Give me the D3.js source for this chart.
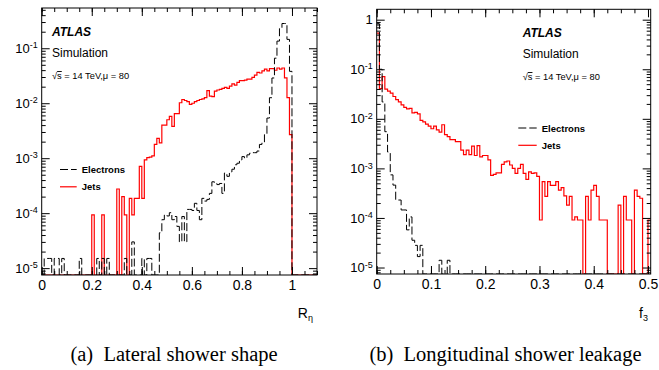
<!DOCTYPE html>
<html>
<head>
<meta charset="utf-8">
<script src="https://cdn.jsdelivr.net/npm/d3@7"></script>
<style>
  body { margin: 0; background: #fff; }
  svg { display: block; }
</style>
</head>
<body>
<div id="chart"></div>
<script>
// ---- data (normalised entries per bin) ----
const rEtaBinWidth = 0.01;   // 110 bins, 0 .. 1.1
const f3BinWidth = 0.005;    // 101 bins, 0 .. 0.505

const rEtaElectrons = [
  0, 1.5e-5, 1.5e-5, 1.5e-5, 0, 1.5e-5, 1.5e-5, 0, 1.5e-5, 0,
  0, 0, 0, 0, 0, 1.5e-5, 0, 0, 0, 0,
  0, 0, 1.5e-5, 0, 1.5e-5, 0, 1.5e-5, 0, 0, 0,
  0, 0, 0, 1.5e-5, 0, 0, 3.0e-5, 0, 0, 0,
  1.5e-5, 0, 1.5e-5, 1.5e-5, 0, 0, 0, 4.4e-5, 7.6e-5, 9.3e-5,
  8.9e-5, 1.02e-4, 7.6e-5, 8.7e-5, 5.75e-5, 3.0e-5, 8.7e-5, 3.0e-5, 1.17e-4, 1.17e-4,
  1.12e-4, 1.51e-4, 1.12e-4, 7.6e-5, 1.86e-4, 1.66e-4, 1.78e-4, 2.29e-4, 3.72e-4, 3.47e-4,
  3.31e-4, 3.47e-4, 2.29e-4, 5.37e-4, 4.68e-4, 5.62e-4, 6.3e-4, 7.6e-4, 8.1e-4, 9.3e-4,
  1.07e-3, 1.0e-3, 1.15e-3, 1.23e-3, 1.26e-3, 1.26e-3, 1.35e-3, 1.78e-3, 1.9e-3, 2.69e-3,
  5.37e-3, 1.26e-2, 2.88e-2, 6.6e-2, 0.135, 0.229, 0.282, 0.282, 0.145, 0.038,
  0, 0, 0, 0, 0, 0, 0, 0, 0, 0
];

const rEtaJets = [
  0, 0, 0, 0, 0, 0, 0, 0, 0, 0,
  0, 0, 0, 0, 0, 0, 0, 0, 0, 0,
  9.3e-5, 0, 0, 0, 9.3e-5, 0, 0, 0, 0, 0,
  2.75e-4, 0, 2.0e-4, 9.3e-5, 0, 1.86e-4, 9.3e-5, 1.86e-4, 1.86e-4, 7.1e-4,
  1.86e-4, 9.3e-4, 1.02e-3, 1.05e-3, 1.10e-3, 1.78e-3, 2.29e-3, 1.9e-3, 3.98e-3, 3.98e-3,
  5.0e-3, 5.75e-3, 3.8e-3, 6.46e-3, 6.46e-3, 1.02e-2, 1.17e-2, 1.12e-2, 1.07e-2, 9.5e-3,
  1.0e-2, 1.07e-2, 1.12e-2, 1.17e-2, 1.2e-2, 1.26e-2, 1.7e-2, 1.35e-2, 1.32e-2, 1.66e-2,
  1.74e-2, 1.78e-2, 1.86e-2, 1.95e-2, 1.86e-2, 2.04e-2, 2.24e-2, 2.14e-2, 2.4e-2, 2.57e-2,
  2.57e-2, 2.63e-2, 2.75e-2, 2.75e-2, 2.95e-2, 3.24e-2, 3.63e-2, 3.55e-2, 3.89e-2, 4.17e-2,
  3.89e-2, 4.27e-2, 4.27e-2, 3.98e-2, 4.37e-2, 4.17e-2, 4.37e-2, 2.88e-2, 1.26e-2, 2.69e-3,
  0, 0, 0, 0, 0, 0, 0, 0, 0, 0
];

const f3Electrons = [
  0.83, 0.1, 2.19e-2, 5.5e-3, 2.14e-3, 7.4e-4, 4.6e-4, 2.3e-4, 2.3e-4, 1.45e-4,
  1.45e-4, 5.75e-5, 1.05e-4, 3.55e-5, 2.8e-5, 1.66e-5, 2.8e-5, 0, 0, 0,
  0, 0, 0, 1.4e-5, 0, 0, 1.4e-5, 0, 0, 0,
  0, 0, 0, 0, 0, 0, 0, 0, 0, 0,
  0, 0, 0, 0, 0, 0, 0, 0, 0, 0,
  0, 0, 0, 0, 0, 0, 0, 0, 0, 0,
  0, 0, 0, 0, 0, 0, 0, 0, 0, 0,
  0, 0, 0, 0, 0, 0, 0, 0, 0, 0,
  0, 0, 0, 0, 0, 0, 0, 0, 0, 0,
  0, 0, 0, 0, 0, 0, 0, 0, 0, 0,
  0
];

const f3Jets = [
  0.537, 4.07e-2, 7.08e-2, 3.98e-2, 3.63e-2, 3.31e-2, 2.82e-2, 2.45e-2, 2.19e-2, 1.91e-2,
  1.70e-2, 1.58e-2, 1.62e-2, 1.32e-2, 1.35e-2, 1.26e-2, 9.3e-3, 8.7e-3, 7.8e-3, 7.1e-3,
  6.3e-3, 7.1e-3, 6.0e-3, 5.37e-3, 7.6e-3, 4.79e-3, 4.37e-3, 3.8e-3, 3.8e-3, 3.47e-3,
  3.47e-3, 2.34e-3, 1.9e-3, 2.34e-3, 1.9e-3, 2.82e-3, 1.82e-3, 2.88e-3, 1.7e-3, 1.82e-3,
  1.82e-3, 1.48e-3, 7.2e-4, 7.6e-4, 8.1e-4, 8.1e-4, 1.2e-3, 1.35e-3, 1.41e-3, 1.17e-3,
  1.0e-3, 7.9e-4, 1.0e-3, 1.2e-3, 7.9e-4, 6.0e-4, 8.5e-4, 7.9e-4, 8.1e-4, 6.9e-4,
  9.1e-5, 5.4e-4, 2.73e-4, 5.4e-4, 4.55e-4, 4.55e-4, 5.4e-4, 3.64e-4, 4.1e-4, 2.8e-4,
  1.82e-4, 2.73e-4, 9.1e-5, 1.05e-4, 9.1e-5, 9.1e-5, 0, 2.73e-4, 9.1e-5, 3.64e-4,
  4.55e-4, 2.73e-4, 9.1e-5, 9.1e-5, 9.1e-5, 0, 0, 0, 0, 1.82e-4,
  0, 2.73e-4, 9.1e-5, 9.1e-5, 0, 3.64e-4, 2.73e-4, 2.5e-4, 0, 0,
  9.1e-5
];

const rEtaMajorTicks = [0, 0.2, 0.4, 0.6, 0.8, 1];
const f3MajorTicks = [0, 0.1, 0.2, 0.3, 0.4, 0.5];
const rEtaDecades = [1e-5, 1e-4, 1e-3, 1e-2, 1e-1];
const f3Decades = [1e-5, 1e-4, 1e-3, 1e-2, 1e-1, 1];
const seriesNames = ["Electrons", "Jets"];
const captions = ["(a)\u2002Lateral shower shape", "(b)\u2002Longitudinal shower leakage"];

const sans = "'Liberation Sans', Arial, Helvetica, sans-serif";

const svg = d3.select("#chart").append("svg")
    .attr("width", 659)
    .attr("height", 370)
    .style("font-family", sans);

function minorLogTicks(domain) {
    const out = [];
    for (let e = -7; e <= 1; e++) {
        for (let m = 2; m <= 9; m++) {
            const v = m * Math.pow(10, e);
            if (v > domain[0] && v < domain[1]) out.push(v);
        }
    }
    return out;
}

function drawPanel(p) {
    const x = d3.scaleLinear().domain(p.xDomain).range([p.left, p.right]);
    const y = d3.scaleLog().domain(p.yDomain).range([p.bottom, p.top]);
    const g = svg.append("g");

    g.append("clipPath").attr("id", p.id + "-clip")
        .append("rect")
        .attr("x", p.left).attr("y", p.top)
        .attr("width", p.right - p.left).attr("height", p.bottom - p.top);

    // histogram outline, empty bins sit on the lower frame edge
    const histPath = values => {
        let d = "";
        values.forEach((v, i) => {
            const yy = v > 0 ? y(v) : p.bottom;
            d += (i === 0 ? `M${x(0)},${yy}` : `V${yy}`) + `H${x((i + 1) * p.binWidth)}`;
        });
        return d;
    };

    const plot = g.append("g").attr("clip-path", `url(#${p.id}-clip)`);
    plot.append("path")
        .attr("d", histPath(p.jets))
        .attr("fill", "none")
        .attr("stroke", "#ff0000")
        .attr("stroke-width", 1.2);
    plot.append("path")
        .attr("d", histPath(p.electrons))
        .attr("fill", "none")
        .attr("stroke", "#000")
        .attr("stroke-width", 1)
        .attr("stroke-dasharray", "8,3");

    const clean = a => a.call(s => s.select(".domain").remove())
        .attr("font-family", sans).attr("font-size", 14);

    // x axes (bottom with labels, top mirrored)
    g.append("g").attr("transform", `translate(0,${p.bottom})`)
        .call(d3.axisBottom(x).tickValues(p.xMajor).tickSizeInner(-8).tickSizeOuter(0)
            .tickPadding(5).tickFormat(d3.format("~g")))
        .call(clean);
    g.append("g").attr("transform", `translate(0,${p.bottom})`)
        .call(d3.axisBottom(x).tickValues(p.xMinor).tickSizeInner(-4).tickSizeOuter(0).tickFormat(""))
        .call(clean);
    g.append("g").attr("transform", `translate(0,${p.top})`)
        .call(d3.axisTop(x).tickValues(p.xMajor).tickSizeInner(-8).tickSizeOuter(0).tickFormat(""))
        .call(clean);
    g.append("g").attr("transform", `translate(0,${p.top})`)
        .call(d3.axisTop(x).tickValues(p.xMinor).tickSizeInner(-4).tickSizeOuter(0).tickFormat(""))
        .call(clean);

    // y axes (left with 10^n labels, right mirrored)
    const yMinor = minorLogTicks(p.yDomain);
    g.append("g").attr("transform", `translate(${p.left},0)`)
        .call(d3.axisLeft(y).tickValues(p.yMajor).tickSizeInner(-8).tickSizeOuter(0).tickPadding(4))
        .call(clean)
        .call(a => a.selectAll(".tick text").attr("font-size", 13).each(function (d) {
            const t = d3.select(this).text(null);
            const e = Math.round(Math.log10(d));
            if (e === 0) { t.text("1"); return; }
            t.append("tspan").text("10");
            t.append("tspan").attr("dy", "-0.5em").attr("font-size", 9).text(e);
        }));
    g.append("g").attr("transform", `translate(${p.left},0)`)
        .call(d3.axisLeft(y).tickValues(yMinor).tickSizeInner(-4).tickSizeOuter(0).tickFormat(""))
        .call(clean);
    g.append("g").attr("transform", `translate(${p.right},0)`)
        .call(d3.axisRight(y).tickValues(p.yMajor).tickSizeInner(-8).tickSizeOuter(0).tickFormat(""))
        .call(clean);
    g.append("g").attr("transform", `translate(${p.right},0)`)
        .call(d3.axisRight(y).tickValues(yMinor).tickSizeInner(-4).tickSizeOuter(0).tickFormat(""))
        .call(clean);

    g.append("rect")
        .attr("x", p.left).attr("y", p.top)
        .attr("width", p.right - p.left).attr("height", p.bottom - p.top)
        .attr("fill", "none").attr("stroke", "#000").attr("stroke-width", 1);

    // axis title
    const title = g.append("text")
        .attr("x", p.titleX).attr("y", 318)
        .attr("text-anchor", "end")
        .attr("font-size", 14)
        .text(p.titleMain);
    title.append("tspan").attr("dy", "0.3em").attr("font-size", 9).text(p.titleSub);

    // ATLAS label
    g.append("text")
        .attr("x", p.labelX).attr("y", p.labelY)
        .attr("font-size", 12).attr("font-weight", "bold").attr("font-style", "italic")
        .text("ATLAS");
    g.append("text")
        .attr("x", p.labelX).attr("y", p.labelY + 21)
        .attr("font-size", 12)
        .text("Simulation");
    const cond = g.append("text")
        .attr("x", p.labelX).attr("y", p.labelY + 43)
        .attr("font-size", 9.3);
    cond.append("tspan").text("\u221A");
    cond.append("tspan").attr("text-decoration", "overline").text("s");
    cond.append("tspan").text(" = 14 TeV,\u03BC = 80");

    // legend
    const leg = g.append("g").attr("transform", `translate(${p.legendX},${p.legendY})`);
    const styles = [
        { stroke: "#000", dash: "8,3", width: 1 },
        { stroke: "#ff0000", dash: null, width: 1.2 }
    ];
    seriesNames.forEach((name, i) => {
        const row = leg.append("g").attr("transform", `translate(0,${i * p.legendStep})`);
        row.append("line")
            .attr("x1", 0).attr("x2", p.legendLine).attr("y1", 0).attr("y2", 0)
            .attr("stroke", styles[i].stroke)
            .attr("stroke-width", styles[i].width)
            .attr("stroke-dasharray", styles[i].dash);
        row.append("text")
            .attr("x", p.legendLine + 5).attr("y", 3.5)
            .attr("font-size", 9.5).attr("font-weight", "bold")
            .text(name);
    });

    // caption
    svg.append("text")
        .attr("x", p.captionX).attr("y", 361)
        .attr("text-anchor", "middle")
        .attr("font-family", "'Liberation Serif', 'Times New Roman', serif")
        .attr("font-size", 20.5)
        .text(p.caption);
}

drawPanel({
    id: "reta",
    left: 41.7, right: 317, top: 8, bottom: 275,
    xDomain: [0, 1.1], yDomain: [7.5e-6, 0.54],
    binWidth: rEtaBinWidth,
    electrons: rEtaElectrons, jets: rEtaJets,
    xMajor: rEtaMajorTicks, xMinor: d3.range(0, 1.1001, 0.05),
    yMajor: rEtaDecades,
    titleX: 313, titleMain: "R", titleSub: "\u03B7",
    labelX: 52, labelY: 36,
    legendX: 60, legendY: 169.5, legendStep: 17.3, legendLine: 16.7,
    captionX: 174, caption: captions[0]
});

drawPanel({
    id: "f3",
    left: 376.7, right: 650.7, top: 9.3, bottom: 274,
    xDomain: [0, 0.505], yDomain: [7.4e-6, 1.62],
    binWidth: f3BinWidth,
    electrons: f3Electrons, jets: f3Jets,
    xMajor: f3MajorTicks, xMinor: d3.range(0, 0.5051, 0.025),
    yMajor: f3Decades,
    titleX: 648, titleMain: "f", titleSub: "3",
    labelX: 522.7, labelY: 37,
    legendX: 518.3, legendY: 128, legendStep: 17.3, legendLine: 18.4,
    captionX: 505.5, caption: captions[1]
});
</script>
</body>
</html>
